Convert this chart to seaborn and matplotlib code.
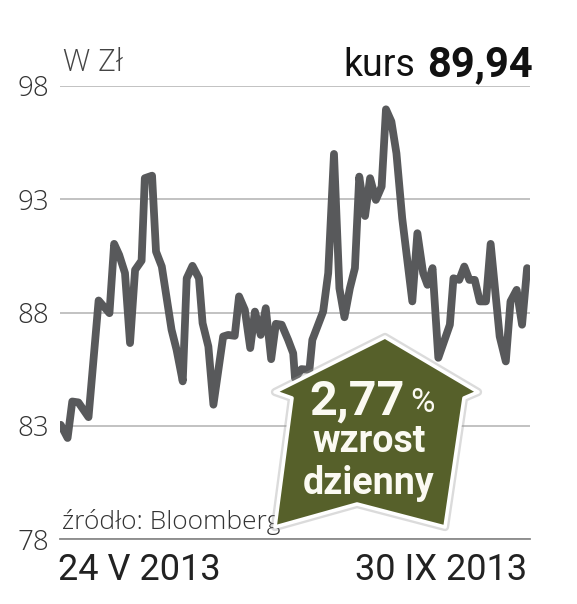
import pandas as pd
import seaborn as sns
from matplotlib import pyplot as plt
from matplotlib.patches import Polygon
from matplotlib.transforms import Affine2D

# Dni liczone od 24 V 2013 i kurs
dni = [0.0, 1.9, 3.2, 4.9, 7.7, 10.5, 13.5, 14.8, 16.2, 17.8, 19.2, 20.6, 22.4, 23.3, 25.3, 26.4,
       28.0, 30.7, 32.1, 33.8, 34.9, 36.5, 38.3, 39.3, 40.9, 42.3, 45.0, 46.4, 48.2, 49.4, 51.0,
       52.5, 53.8, 55.4, 56.8, 58.3, 59.6, 61.2, 63.0, 64.4, 64.9, 66.7, 68.9, 69.7, 72.7, 74.1,
       75.7, 77.2, 78.6, 80.1, 81.5, 82.7, 84.3, 85.7, 87.3, 88.9, 90.1, 91.6, 93.0, 94.6, 97.4,
       98.8, 100.4, 101.6, 103.0, 104.6, 107.8, 108.8, 110.4, 111.8, 113.2, 114.7, 116.1, 117.8,
       119.1, 121.6, 123.3, 124.6, 126.3, 127.8, 129.2]
kurs = [83.04, 82.46, 84.07, 84.03, 83.38, 88.53, 87.97, 91.03, 90.54, 89.74, 86.65, 89.88, 90.29,
        93.93, 94.04, 90.69, 90.03, 87.24, 86.35, 84.96, 89.51, 90.06, 89.51, 87.53, 86.50, 83.93,
        86.94, 87.01, 86.97, 88.71, 88.12, 86.43, 88.04, 87.01, 88.19, 85.94, 87.50, 87.46, 86.79,
        86.20, 85.10, 85.50, 85.47, 86.79, 88.04, 89.74, 95.00, 89.07, 87.79, 89.07, 89.96, 94.00,
        92.26, 93.93, 92.97, 93.56, 96.97, 96.43, 95.03, 92.16, 88.49, 91.50, 89.74, 89.22, 89.96,
        86.00, 87.46, 89.51, 89.44, 90.03, 89.44, 89.44, 88.49, 88.49, 91.03, 86.94, 85.84, 88.49,
        89.00, 87.46, 89.96]
y_ticks = [78, 83, 88, 93, 98]
x_ticks = [0, 129.2]
x_labels = ['24 V 2013', '30 IX 2013']

dane = pd.DataFrame({'dzien': dni, 'kurs': kurs})

sns.set_theme(style='white', rc={'figure.figsize': (5.77, 6.04), 'figure.dpi': 100})
plt.rcParams['font.family'] = ['Open Sans', 'DejaVu Sans']
waskie = ['Roboto', 'DejaVu Sans']

fig = plt.figure()
ax = fig.add_axes([60 / 577, 1 - 539 / 604, 470 / 577, 453 / 604])

sns.lineplot(data=dane, x='dzien', y='kurs', sort=False, color='#58595b', linewidth=5.6, ax=ax, zorder=3)

ax.set_xlim(-0.2, 130)
ax.set_ylim(78, 98)
ax.set_xlabel('')
ax.set_ylabel('')
ax.set_yticks(y_ticks)
ax.set_yticklabels(y_ticks, fontsize=20, color='#333333', fontweight='light')
ax.set_xticks(x_ticks)
ax.set_xticklabels(x_labels, family=waskie, fontsize=26, color='#222222')
ax.get_xticklabels()[0].set_ha('left')
ax.get_xticklabels()[1].set_ha('right')
ax.tick_params(axis='both', length=0, pad=8)
ax.tick_params(axis='x', pad=9)
etykieta = ax.get_xticklabels()[0]
etykieta.set_transform(etykieta.get_transform() + Affine2D().translate(-3, 0))

ax.grid(axis='y', color='#bdbdbd', linewidth=1.3)
ax.set_axisbelow(True)
for s in ['left', 'right', 'top']:
    ax.spines[s].set_visible(False)
ax.spines['bottom'].set_color('#8a8a8a')
ax.spines['bottom'].set_linewidth(1.3)

# Teksty opisowe
fig.text(63 / 577, 1 - 63 / 604, 'W Zł', fontsize=22, color='#444444', va='center', fontweight='light')
fig.text(415 / 577, 1 - 65 / 604, 'kurs', family=waskie, fontsize=27, color='#111111', va='center', ha='right')
fig.text(533 / 577, 1 - 65 / 604, '89,94', family=waskie, fontsize=30, fontweight='bold',
         color='#111111', va='center', ha='right')
ax.text(62 / 577, 1 - 522 / 604, 'źródło: Bloomberg', transform=fig.transFigure, fontsize=19,
        color='#333333', va='center', fontweight='light', zorder=4)

# Domek z opisem, w pikselach obrazka
piksele = Affine2D().scale(1 / 577, -1 / 604).translate(0, 1) + fig.transFigure
domek = [(385, 337), (478, 392), (464, 398), (445, 527), (357, 504), (275, 527), (292, 398), (275, 392)]
ax.add_patch(Polygon(domek, closed=True, transform=piksele, clip_on=False, facecolor='#9a9a9a',
                     edgecolor='#9a9a9a', linewidth=6, joinstyle='round', alpha=0.35, zorder=5))
ax.add_patch(Polygon(domek, closed=True, transform=piksele, clip_on=False, facecolor='#56602a',
                     edgecolor='white', linewidth=2.6, joinstyle='round', zorder=6))

fig.text(357 / 577, 1 - 402 / 604, '2,77', family=waskie, fontsize=35, fontweight='bold', color='#fbfaf2',
         va='center', ha='center', zorder=7)
fig.text(422 / 577, 1 - 403 / 604, '%', family=waskie, fontsize=24, color='#fbfaf2',
         va='center', ha='center', zorder=7)
fig.text(369 / 577, 1 - 442 / 604, 'wzrost', family=waskie, fontsize=27, fontweight='bold', color='#fbfaf2',
         va='center', ha='center', zorder=7)
fig.text(369 / 577, 1 - 484 / 604, 'dzienny', family=waskie, fontsize=27, fontweight='bold', color='#fbfaf2',
         va='center', ha='center', zorder=7)

plt.savefig('out.png', dpi=100)
